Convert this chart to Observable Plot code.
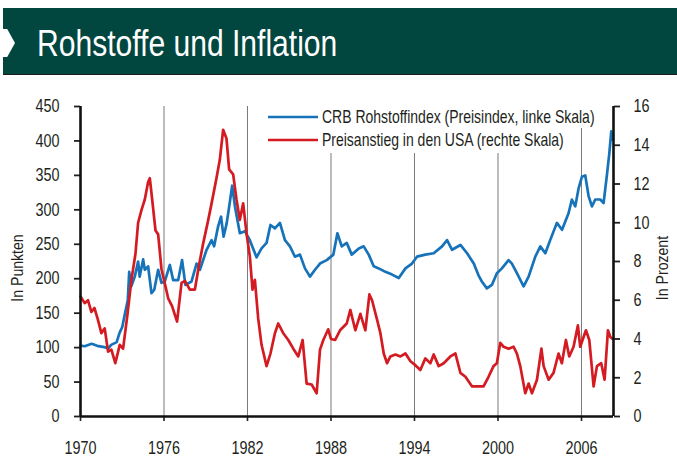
<!DOCTYPE html>
<html>
<head>
<meta charset="utf-8">
<script src="https://cdn.jsdelivr.net/npm/d3@7"></script>
<script src="https://cdn.jsdelivr.net/npm/@observablehq/plot@0.6"></script>
<style>
  html, body { margin: 0; padding: 0; background: #fff; }
  #wrap { position: relative; width: 677px; height: 473px; overflow: hidden; background: #fff;
          font-family: "Liberation Sans", Arial, sans-serif; }
  #band { position: absolute; left: 3px; top: 8px; width: 674px; height: 66px; background: #01473f; }
  #bandline { position: absolute; left: 3px; top: 74px; width: 674px; height: 2px; background: #1b1b1b; }
  #leftborder { position: absolute; left: 3px; top: 75px; width: 2px; height: 398px; background: #2a2a2a; }
  #chev { position: absolute; left: 3px; top: 29px; width: 12px; height: 28px; background: #fff;
          clip-path: polygon(0 0, 35% 0, 100% 50%, 35% 100%, 0 100%); }
  #title { position: absolute; left: 37px; top: 26px; color: #fff; font-size: 36px; line-height: 36px;
           white-space: nowrap; transform: scaleX(0.835); transform-origin: 0 0; }
  #chart { position: absolute; left: 0; top: 75px; }
</style>
</head>
<body>
<div id="wrap">
  <div id="band"></div>
  <div id="bandline"></div>
  <div id="leftborder"></div>
  <div id="chev"></div>
  <div id="title">Rohstoffe und Inflation</div>
  <div id="chart"></div>
</div>
<script>
// CRB Rohstoffindex (left scale, points)
const crbYears = [1970.0,1970.3,1970.8,1971.2,1971.7,1972.0,1972.2,1972.6,1972.8,1973.0,1973.2,1973.4,1973.5,1973.65,1973.9,1974.14,1974.25,1974.5,1974.62,1974.86,1975.1,1975.3,1975.58,1975.82,1976.06,1976.42,1976.66,1977.02,1977.3,1977.54,1977.98,1978.34,1978.58,1979.06,1979.42,1979.6,1979.89,1980.1,1980.28,1980.5,1980.65,1980.9,1981.1,1981.45,1981.81,1982.17,1982.65,1983.01,1983.37,1983.65,1983.97,1984.33,1984.69,1985.05,1985.41,1985.77,1986.13,1986.49,1986.85,1987.21,1987.69,1988.17,1988.46,1988.77,1989.13,1989.49,1990.0,1990.35,1990.71,1991.07,1991.43,1991.91,1992.39,1992.87,1993.35,1993.82,1994.18,1994.78,1995.38,1995.98,1996.34,1996.7,1997.3,1997.78,1998.26,1998.62,1998.84,1999.2,1999.56,1999.92,2000.28,2000.76,2001.0,2001.36,2001.84,2002.2,2002.68,2003.04,2003.4,2003.75,2004.23,2004.6,2005.07,2005.31,2005.55,2005.79,2006.03,2006.27,2006.51,2006.75,2006.99,2007.35,2007.59,2007.83,2008.0,2008.14,2008.24];
const crbValues = [103,102,105.5,102.6,100.7,99,104,108,121,130,150,169,210,189,203,225,203,228,213,218,179,184,213,194,196,220,198,198,227,191,196,222,213,242,256,247,276,290,261,280,300,335,305,266,269,256,231,244,252,278,273,281,256,247,232,235,215,203,213,222,227,235,266,247,252,235,244,247,235,218,215,210,206,201,215,222,232,235,237,247,256,242,249,237,222,204,196,186,191,208,215,227,222,208,189,203,232,247,237,256,281,271,295,315,305,331,348,350,320,305,315,315,310,351,382,414,402];

// Preisanstieg in den USA (right scale, percent)
const cpiYears = [1970.0,1970.3,1970.54,1970.78,1971.0,1971.25,1971.5,1971.74,1971.98,1972.22,1972.5,1972.82,1973.06,1973.38,1973.66,1973.95,1974.14,1974.38,1974.62,1974.86,1974.98,1975.15,1975.39,1975.58,1975.82,1976.0,1976.3,1976.58,1976.94,1977.26,1977.5,1977.86,1978.22,1978.5,1978.82,1979.18,1979.42,1979.77,1980.01,1980.25,1980.49,1980.68,1980.97,1981.21,1981.45,1981.69,1981.93,1982.17,1982.36,1982.53,1982.77,1983.01,1983.37,1983.65,1983.97,1984.21,1984.57,1984.93,1985.29,1985.65,1985.96,1986.25,1986.61,1986.97,1987.21,1987.45,1987.8,1988.0,1988.3,1988.65,1989.13,1989.39,1989.75,1990.11,1990.47,1990.76,1990.95,1991.31,1991.55,1991.79,1992.03,1992.27,1992.63,1992.99,1993.35,1993.71,1994.06,1994.42,1994.78,1995.14,1995.38,1995.74,1996.1,1996.58,1996.94,1997.3,1997.66,1998.14,1998.62,1998.96,1999.32,1999.68,1999.92,2000.16,2000.4,2000.76,2001.12,2001.36,2001.6,2001.96,2002.2,2002.44,2002.8,2003.12,2003.28,2003.64,2003.99,2004.35,2004.59,2004.88,2005.12,2005.43,2005.74,2005.91,2006.15,2006.32,2006.56,2006.87,2007.11,2007.42,2007.66,2007.9,2008.07,2008.24];
const cpiValues = [6.2,5.85,6.0,5.4,5.6,5.0,4.3,4.55,3.35,3.45,2.75,3.7,3.5,5.3,7.05,8.4,10.0,10.65,11.2,12.1,12.3,11.2,9.6,9.4,7.6,7.05,6.1,5.7,4.9,6.9,7.0,6.55,6.55,7.75,8.95,10.15,11.0,12.3,13.25,14.8,14.35,12.75,12.5,11.2,10.15,11.0,9.45,8.25,6.55,7.05,5.05,3.7,2.6,3.25,4.3,4.8,4.3,3.95,3.5,3.1,3.95,1.7,1.65,1.2,3.45,3.95,4.5,4.0,3.95,4.45,4.8,5.5,4.45,5.3,4.45,6.3,6.0,5.0,4.3,3.25,2.75,3.1,3.2,3.1,3.25,2.85,2.65,2.4,3.0,2.75,3.2,2.6,2.75,3.1,3.25,2.25,2.05,1.55,1.55,1.55,2.05,2.6,2.75,3.8,3.6,3.5,3.6,3.25,2.6,1.2,1.7,1.2,1.9,3.5,2.6,1.9,2.25,3.25,2.75,3.95,3.1,3.6,4.7,3.6,4.1,4.45,3.95,1.55,2.6,2.75,1.9,4.45,4.1,4.0];

const xTicks = [1970, 1976, 1982, 1988, 1994, 2000, 2006];
const gridYears = [1976, 1982, 1988, 1994, 2000, 2006];
const leftTicks = [0, 50, 100, 150, 200, 250, 300, 350, 400, 450];
const rightTicks = [0, 2, 4, 6, 8, 10, 12, 14, 16];
const legendLabels = ["CRB Rohstoffindex (Preisindex, linke Skala)", "Preisanstieg in den USA (rechte Skala)"];
const axisTitles = ["In Punkten", "In Prozent"];

const blue = "#1673b9";
const red = "#d41b22";
const ink = "#231f20";
const k = 450 / 16;
const xMax = 2008.3;
const squeeze = 0.8; // condensed look

const crb = crbYears.map((x, i) => ({x, v: crbValues[i]}));
const cpi = cpiYears.map((x, i) => ({x, v: cpiValues[i] * k}));

const font = '"Liberation Sans", Arial, sans-serif';

const chart = Plot.plot({
  width: 677,
  height: 398,
  marginLeft: 80,
  marginRight: 64,
  marginTop: 31,
  marginBottom: 57,
  style: {fontFamily: font, fontSize: "18px", color: ink, background: "#fff", overflow: "visible"},
  x: {domain: [1970, xMax], axis: null},
  y: {domain: [0, 450], axis: null},
  marks: [
    Plot.ruleX(gridYears, {stroke: "#7a7a7a", strokeWidth: 1}),
    Plot.axisX({ticks: xTicks, tickFormat: d => String(d), tickSize: 5, tickPadding: 20, strokeWidth: 1.6, fill: ink, stroke: ink, label: null}),
    Plot.axisY({ticks: leftTicks, anchor: "left", tickSize: 6, tickPadding: 15, strokeWidth: 1.8, fill: ink, stroke: ink, label: null}),
    Plot.axisY(rightTicks.map(v => v * k), {anchor: "right", tickFormat: d => String(Math.round(d / k)), tickSize: 6, tickPadding: 14, strokeWidth: 1.8, fill: ink, stroke: ink, label: null}),
    Plot.line(crb, {x: "x", y: "v", stroke: blue, strokeWidth: 2.7}),
    Plot.line(cpi, {x: "x", y: "v", stroke: red, strokeWidth: 2.7}),
    Plot.ruleX([1970, xMax], {stroke: "#111", strokeWidth: 2.6}),
    Plot.ruleY([0], {stroke: "#111", strokeWidth: 2.6})
  ]
});

document.getElementById("chart").appendChild(chart);

// condense the tick labels horizontally around their anchor
d3.select(chart).selectAll("text").each(function() {
  const t = this.getAttribute("transform");
  if (t) {
    this.setAttribute("transform", t + ` scale(${squeeze},1)`);
  } else {
    const x = +this.getAttribute("x") || 0, y = +this.getAttribute("y") || 0;
    this.removeAttribute("x"); this.removeAttribute("y");
    this.setAttribute("transform", `translate(${x},${y}) scale(${squeeze},1)`);
  }
});

// legend (masks the grid lines behind it) and axis titles
const svg = d3.select(chart);
const g = svg.append("g").attr("font-family", font).attr("fill", ink);
g.append("rect").attr("x", 262).attr("y", 29).attr("width", 341).attr("height", 24).attr("fill", "#fff");
g.append("rect").attr("x", 262).attr("y", 53).attr("width", 304).attr("height", 25).attr("fill", "#fff");
const rows = [{c: blue, y: 42}, {c: red, y: 65}];
rows.forEach((r, i) => {
  g.append("line").attr("x1", 268).attr("x2", 318).attr("y1", r.y).attr("y2", r.y)
    .attr("stroke", r.c).attr("stroke-width", 2.7);
  g.append("text").attr("transform", `translate(322,${r.y}) scale(${squeeze},1)`).attr("dy", "0.35em")
    .attr("text-anchor", "start").attr("font-size", 17.5).text(legendLabels[i]);
});
g.append("text").attr("transform", `translate(23,193) rotate(-90) scale(${squeeze + 0.03},1)`).attr("text-anchor", "middle")
  .attr("font-size", 17).text(axisTitles[0]);
g.append("text").attr("transform", `translate(668,193) rotate(-90) scale(${squeeze + 0.03},1)`).attr("text-anchor", "middle")
  .attr("font-size", 17).text(axisTitles[1]);
</script>
</body>
</html>
